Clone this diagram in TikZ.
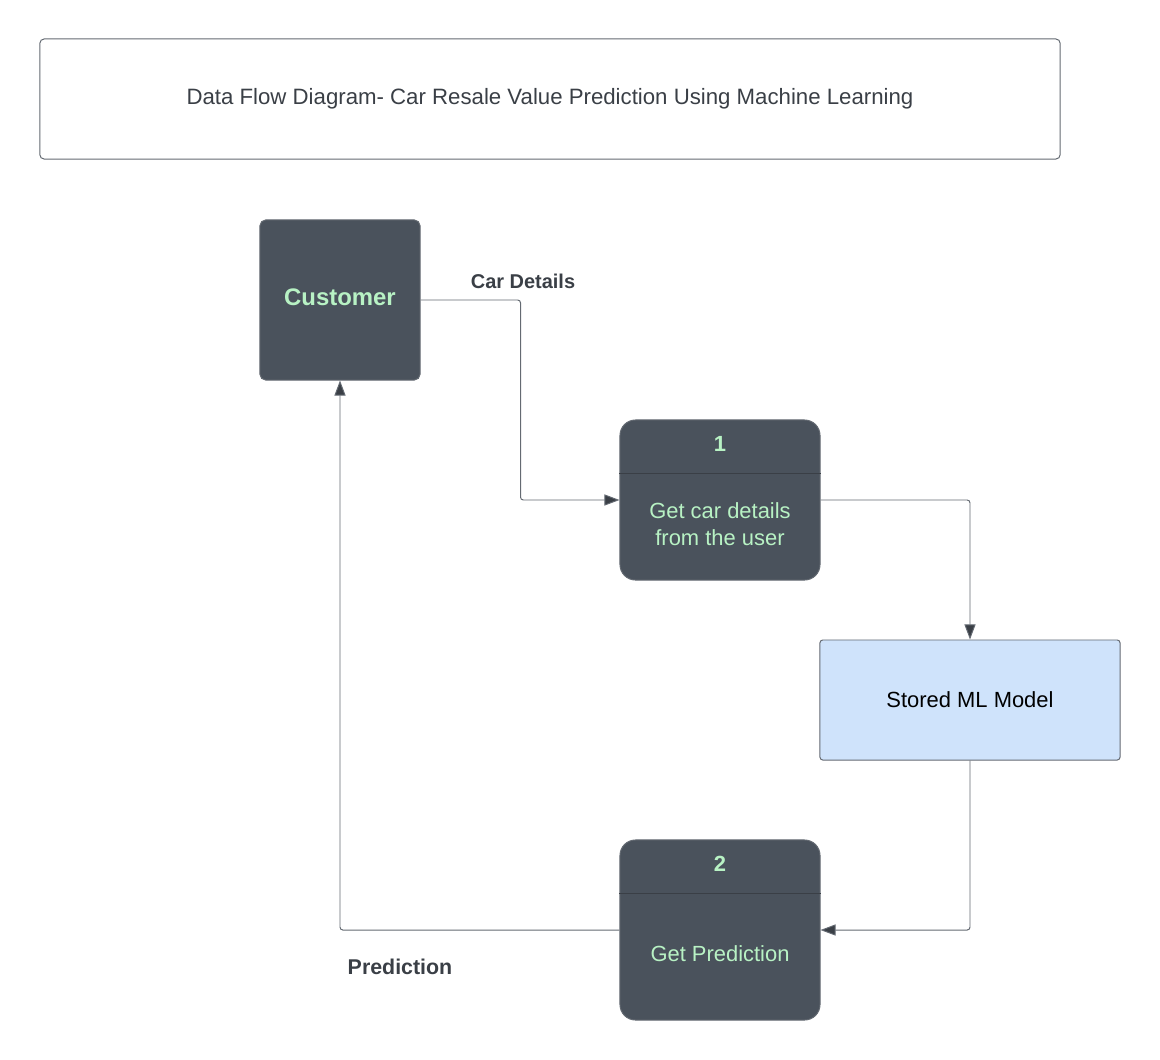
\documentclass[tikz,border=0pt]{standalone}
\usepackage{fontspec}
\setmainfont{Liberation Sans}
\usetikzlibrary{arrows.meta, positioning, calc}

\definecolor{slate}{HTML}{4A525C}
\definecolor{mint}{HTML}{B8F2C4}
\definecolor{edgegray}{HTML}{646A72}
\definecolor{inkgray}{HTML}{3A3F46}
\definecolor{skyblue}{HTML}{CFE3FB}

\begin{document}
\begin{tikzpicture}[
        x=0.025cm, y=-0.025cm,
        titlebox/.style={draw=edgegray, line width=0.7pt, rounded corners=3pt, minimum width=25.5cm, minimum height=3cm, inner sep=0pt, font=\fontsize{15.8}{19}\selectfont, text=inkgray},
        entity/.style={draw=edgegray, fill=slate, line width=0.7pt, rounded corners=4pt, minimum width=4cm, minimum height=4cm, inner sep=0pt, text=mint, font=\bfseries\fontsize{17}{20}\selectfont},
        process/.style={draw=edgegray, fill=slate, line width=0.7pt, rounded corners=11pt, minimum width=5cm, inner sep=0pt},
        proctext/.style={text=mint, align=center, font=\fontsize{15.6}{19.2}\selectfont},
        procnum/.style={text=mint, font=\bfseries\fontsize{15.6}{19}\selectfont},
        store/.style={draw=edgegray, fill=skyblue, line width=0.7pt, rounded corners=2pt, minimum width=7.5cm, minimum height=3cm, inner sep=0pt, font=\fontsize{15.6}{19}\selectfont},
        flowlabel/.style={text=inkgray, font=\bfseries\fontsize{14.2}{17}\selectfont},
        divider/.style={draw=inkgray, line width=0.6pt},
        arrow/.style={draw=edgegray, line width=0.7pt, rounded corners=2pt, -{Triangle[length=0.38cm, width=0.28cm, fill=inkgray]}}
    ]

    \useasboundingbox (0,0) rectangle (1160,1060);

    % Title
    \node[titlebox] (title) at (550, 99) {Data Flow Diagram- Car Resale Value Prediction Using Machine Learning};

    % External entity
    \node[entity] (cust) at (340, 300) {};
    \node[text=mint, font=\bfseries\fontsize{17}{20}\selectfont] (custtxt) at (340, 297) {Customer};

    % Process 1
    \node[process, minimum height=4cm] (p1) at (720, 500) {};
    \node[procnum] (p1num) at (720, 444) {1};
    \node[proctext] (p1txt) at (720, 524) {Get car details\\from the user};
    \draw[divider] ($(p1.north west)+(0,54)$) -- ($(p1.north east)+(0,54)$);

    % Data store
    \node[store] (ml) at (970, 700) {Stored ML Model};

    % Process 2
    \node[process, minimum height=4.5cm] (p2) at (720, 930) {};
    \node[procnum] (p2num) at (720, 864) {2};
    \node[proctext] (p2txt) at (720, 954) {Get Prediction};
    \draw[divider] ($(p2.north west)+(0,54)$) -- ($(p2.north east)+(0,54)$);

    % Data flows
    \draw[arrow] (cust.east) -- ++(100, 0) |- (p1.west);
    \draw[arrow] (p1.east) -| (ml.north);
    \draw[arrow] (ml.south) |- (p2.east);
    \draw[arrow] (p2.west) -| (cust.south);

    % Flow labels
    \node[flowlabel] (carlbl) at (523, 281) {Car Details};
    \node[flowlabel, font=\bfseries\fontsize{15.2}{18}\selectfont] (predlbl) at (400, 967) {Prediction};

\end{tikzpicture}
\end{document}
